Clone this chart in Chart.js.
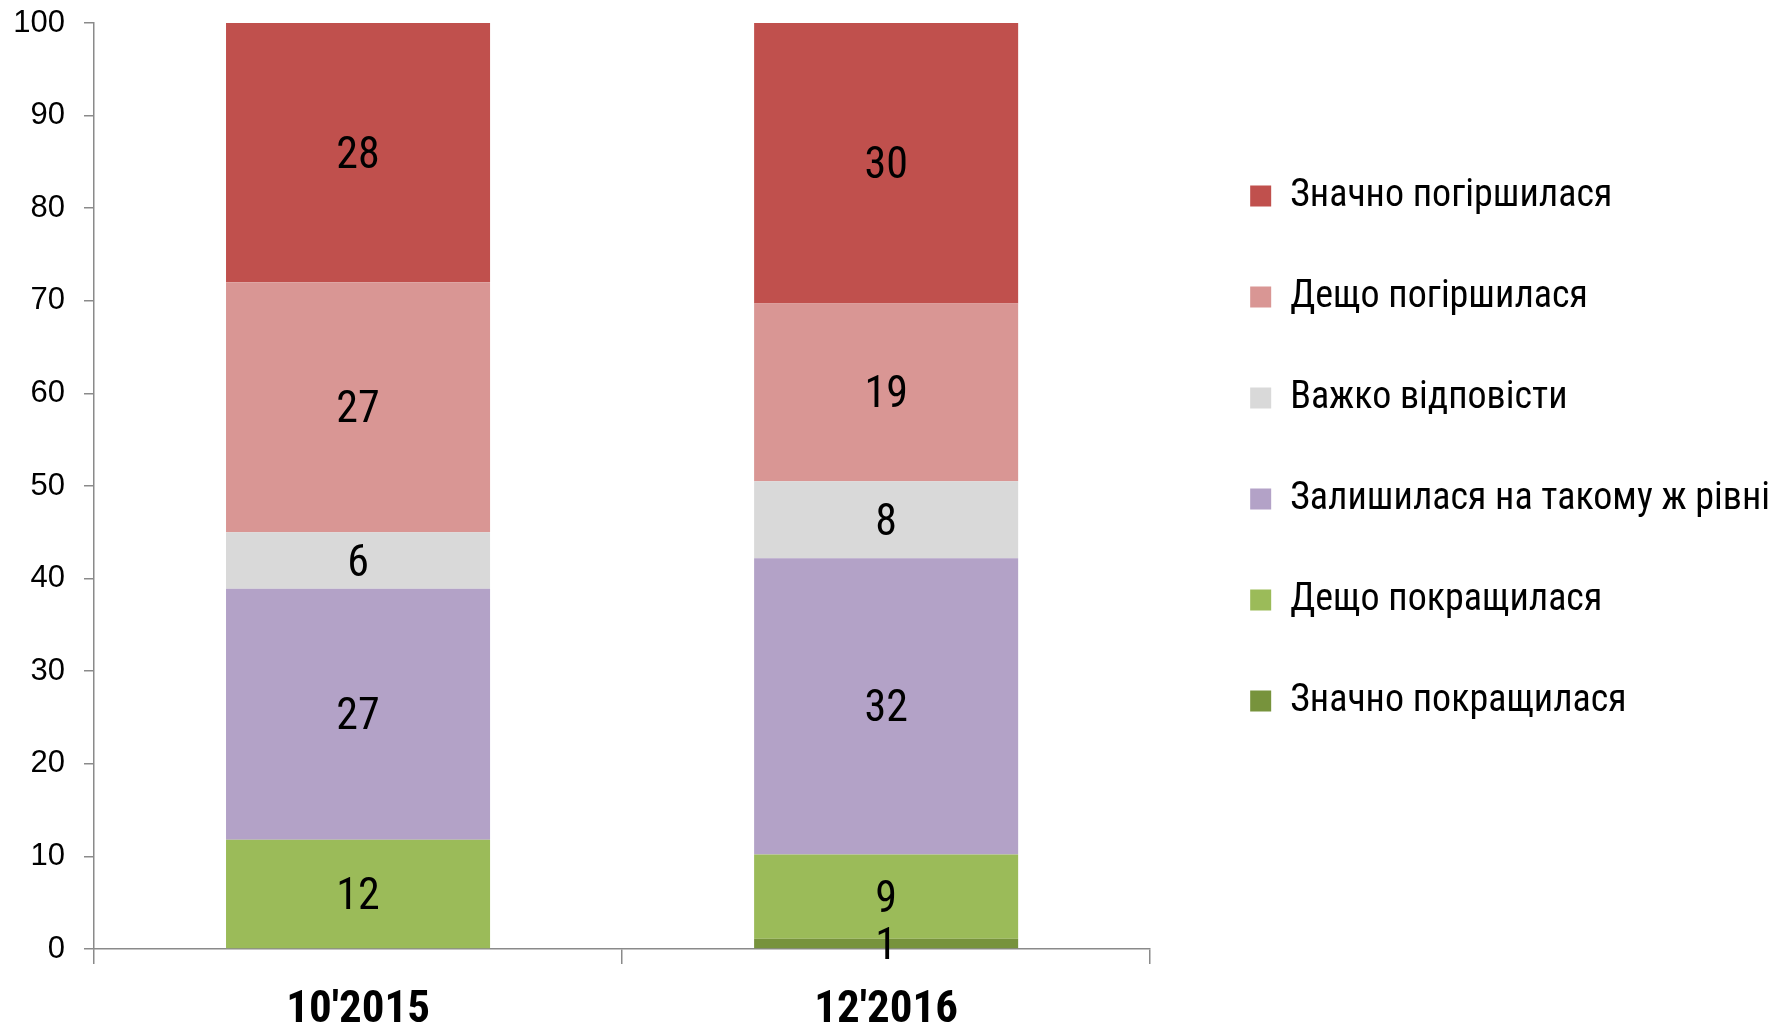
<!DOCTYPE html>
<html>
<head>
<meta charset="utf-8">
<script src="https://cdn.jsdelivr.net/npm/chart.js@4.4.1/dist/chart.umd.min.js"></script>
<style>
	body { margin: 0; background: #fff; }
	#wrap { width: 1790px; height: 1030px; }
</style>
</head>
<body>
<div id="wrap"><canvas id="stacked-chartcanvas" width="1790" height="1030"></canvas></div>
<script>
// categories (waves of the survey)
var periods = ["10'2015", "12'2016"];

// series, bottom of the stack first
var seriesNames = [
	"Значно покращилася",
	"Дещо покращилася",
	"Залишилася на такому ж рівні",
	"Важко відповісти",
	"Дещо погіршилася",
	"Значно погіршилася"
];
var muchBetter   = [null, 1.1];
var bitBetter    = [11.8, 9.1];
var same         = [27.1, 32.0];
var hardToSay    = [6.1, 8.3];
var bitWorse     = [27.0, 19.2];
var muchWorse    = [28.0, 30.3];

var yTicks = [0, 10, 20, 30, 40, 50, 60, 70, 80, 90, 100];

var colors = ["#77933C", "#9BBB59", "#B3A2C7", "#D9D9D9", "#D99694", "#C0504D"];

var narrow = "'Roboto Condensed', 'DejaVu Sans Condensed', sans-serif";
var regular = "'Liberation Sans', Arial, sans-serif";
var axisGray = "#8a8a8a";

var seriesValues = [muchBetter, bitBetter, same, hardToSay, bitWorse, muchWorse];

var datasets = [];
for (var i = 0; i < seriesNames.length; i++) {
	datasets.push({
		label : seriesNames[i],
		data : seriesValues[i],
		backgroundColor : colors[i],
		borderWidth : 0,
		barPercentage : 1,
		categoryPercentage : 0.5
	});
}

// writes the rounded value in the middle of each segment
var segmentLabels = {
	id : "segmentLabels",
	afterDatasetsDraw : function(chart) {
		var ctx = chart.ctx;
		ctx.save();
		ctx.font = "44px " + narrow;
		ctx.fillStyle = "#000";
		ctx.textAlign = "center";
		ctx.textBaseline = "middle";
		chart.data.datasets.forEach(function(ds, di) {
			var meta = chart.getDatasetMeta(di);
			meta.data.forEach(function(bar, j) {
				var v = ds.data[j];
				if (v == null || Math.round(v) === 0) return;
				// +4: roboto sits a bit high on "middle"
				ctx.fillText(String(Math.round(v)), bar.x, (bar.y + bar.base) / 2 + 4);
			});
		});
		ctx.restore();
	}
};

var ctx1 = document.getElementById("stacked-chartcanvas");

var chart1 = new Chart(ctx1, {
	type : "bar",
	data : {
		labels : periods,
		datasets : datasets
	},
	options : {
		responsive : false,
		animation : false,
		layout : { padding : { top : 0, right : 10, left : 0, bottom : 0 } },
		plugins : {
			tooltip : { enabled : false },
			legend : {
				display : true,
				position : "right",
				align : "start",
				reverse : true,
				maxWidth : 700,
				title : { display : true, text : " ", font : { size : 20 }, padding : 45 },
				labels : {
					boxWidth : 21,
					boxHeight : 21,
					padding : 63,
					color : "#000",
					font : { family : narrow, size : 38 }
				}
			}
		},
		scales : {
			x : {
				stacked : true,
				grid : { display : true, drawOnChartArea : false, drawTicks : true, tickLength : 15, color : axisGray, lineWidth : 1.5 },
				border : { display : true, color : axisGray, width : 1.5 },
				ticks : { color : "#000", padding : 20, font : { family : narrow, size : 45, weight : "bold" } },
				afterFit : function(s) { s.height = 81; }
			},
			y : {
				stacked : true,
				min : 0,
				max : 100,
				afterBuildTicks : function(s) { s.ticks = yTicks.map(function(v) { return { value : v }; }); },
				grid : { display : true, drawOnChartArea : false, drawTicks : true, tickLength : 10, color : axisGray, lineWidth : 1.5 },
				border : { display : true, color : axisGray, width : 1.5 },
				ticks : { color : "#000", padding : 19, font : { family : regular, size : 31 } },
				afterFit : function(s) { s.width = 94; s.paddingTop = 23; s.paddingBottom = 17; }
			},
			gap : {
				position : "right",
				display : true,
				grid : { display : false },
				border : { display : false },
				ticks : { display : false },
				afterFit : function(s) { s.width = 37; }
			}
		}
	},
	plugins : [segmentLabels]
});
</script>
</body>
</html>
